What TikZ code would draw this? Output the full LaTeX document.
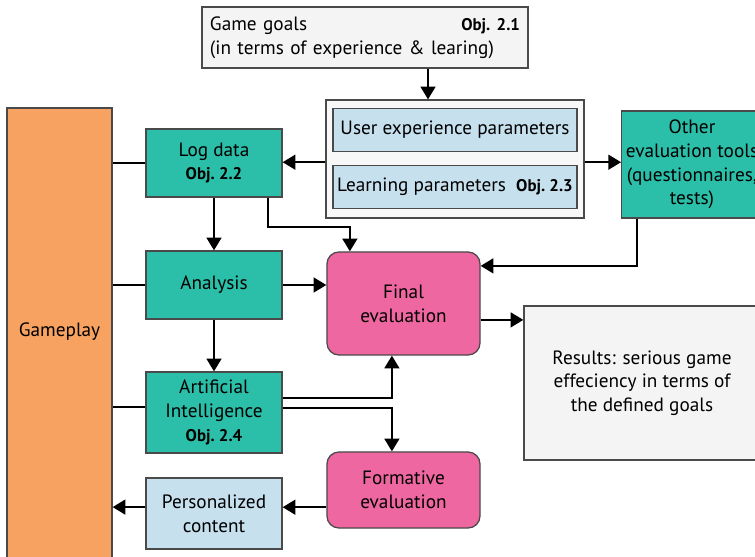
\documentclass[tikz,border=0pt]{standalone}
\usepackage{fontspec}
\setmainfont{PT Sans}
\usepackage{tikz}
\usetikzlibrary{arrows.meta,positioning,calc}
\definecolor{tealgreen}{HTML}{2BBEA8}
\definecolor{peach}{HTML}{F7A261}
\definecolor{pinkish}{HTML}{EE67A0}
\definecolor{skyblue}{HTML}{C6E0EE}
\definecolor{paper}{HTML}{F4F4F4}
\definecolor{edge}{HTML}{4A4A4A}
\tikzset{
  basebox/.style={
    rectangle, draw=edge, line width=0.9pt, fill=#1,
    font=\fontsize{13.7}{16.8}\selectfont, align=center,
    inner sep=3pt
  },
  basebox/.default=paper,
  databox/.style={basebox=tealgreen, minimum width=3.4cm, minimum height=1.7cm},
  evalbox/.style={basebox=pinkish, rounded corners=0.3cm,
    minimum width=3.825cm},
  parambox/.style={basebox=skyblue, minimum width=6.1cm, minimum height=1.08cm},
  flow/.style={-{Triangle[length=9pt, width=10.5pt]}, line width=1.4pt},
  link/.style={line width=1.4pt},
}
\newcommand{\objref}[1]{{\fontsize{12}{14}\selectfont\bfseries Obj.~#1}}

\begin{document}
\begin{tikzpicture}[x=0.025cm, y=-0.025cm]
  \useasboundingbox (0,0) rectangle (755,557);
  % top goals and parameters
  \node[basebox, minimum width=8.15cm, minimum height=1.525cm, text width=7.75cm,
        align=left] (goals) at (365,37.5)
        {Game goals\hfill\objref{2.1}\\(in terms of experience \& learing)};
  \node[basebox, fill=paper!60, minimum width=6.45cm, minimum height=2.95cm] (params) at (455,159) {};
  \node[parambox] (ux) at (455,130) {User experience parameters};
  \node[parambox] (learn) at (455,187) {Learning parameters~~\objref{2.3}};
  % left column
  \node[basebox=peach, minimum width=2.625cm, minimum height=11.8cm] (gameplay) at (59.5,344) {};
  \node[font=\fontsize{13.7}{16.8}\selectfont] (gplabel) at (59.5,332) {Gameplay};
  \node[databox] (log) at (214,163) {Log data\\\objref{2.2}};
  \node[databox] (analysis) at (214,285) {Analysis};
  \node[databox, minimum height=2.025cm] (ai) at (214,412.5) {Artificial\\Intelligence\\\objref{2.4}};
  \node[basebox=skyblue, minimum width=3.4cm, minimum height=1.775cm] (perso) at (214,513.5) {Personalized\\content};
  % evaluation
  \node[evalbox, minimum height=2.575cm] (final) at (403.5,303.5) {Final\\evaluation};
  \node[evalbox, minimum height=1.9cm] (formative) at (403.5,490) {Formative\\evaluation};
  \node[databox, minimum height=2.675cm] (other) at (692,164.5) {Other\\evaluation tools\\(questionnaires,\\tests)};
  \node[basebox, minimum width=5.9cm, minimum height=3.85cm] (results) at (642,383)
        {Results: serious game\\effeciency in terms of\\the defined goals};

  % connectors
  \draw[flow] ([xshift=1.575cm]goals.south) coordinate (g) -- (g |- params.north);
  \draw[flow] ([yshift=-0.08cm]params.west) -- ([yshift=-0.08cm]params.west -| log.east);
  \draw[flow] ([yshift=-0.08cm]params.east) -- ([yshift=-0.08cm]params.east -| other.west);
  \draw[link] (log.west) -- (log.west -| gameplay.east);
  \draw[link] (analysis.west) -- (analysis.west -| gameplay.east);
  \draw[link] ([yshift=0.14cm]ai.west) -- ([yshift=0.14cm]ai.west -| gameplay.east);
  \draw[flow] (log) -- (analysis);
  \draw[flow] (analysis) -- (ai);
  \draw[flow] ([xshift=1.35cm]log.south) |- ([xshift=-1.34cm, yshift=0.6cm]final.north)
    -- ([xshift=-1.34cm]final.north);
  \draw[flow] (analysis.east) -- (analysis.east -| final.west);
  \draw[flow] ([xshift=0.4cm]other.south west) |- ([yshift=0.94cm]final.east);
  \draw[flow] ([yshift=-0.41cm]final.east) -- ([yshift=-0.41cm]final.east -| results.west);
  \draw[flow] ([yshift=0.36cm]ai.east) -| ([xshift=-0.29cm]final.south);
  \draw[flow] ([yshift=0.11cm]ai.east) -| ([xshift=-0.29cm]formative.north);
  \draw[flow] ([yshift=-0.43cm]formative.west) -- ([yshift=-0.43cm]formative.west -| perso.east);
  \draw[flow] ([yshift=0.16cm]perso.west) -- ([yshift=0.16cm]perso.west -| gameplay.east);
\end{tikzpicture}
\end{document}
